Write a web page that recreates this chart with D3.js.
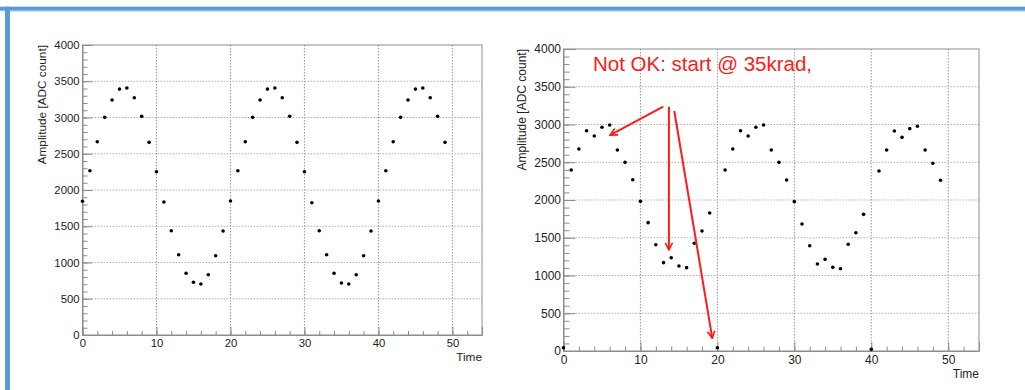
<!DOCTYPE html>
<html>
<head>
<meta charset="utf-8">
<script src="https://cdn.jsdelivr.net/npm/d3@7"></script>
<style>
  html, body { margin: 0; padding: 0; background: #fff; }
  svg { display: block; font-family: "Liberation Sans", Arial, Helvetica, sans-serif; }
</style>
</head>
<body>
<svg id="chart" width="1025" height="390"></svg>
<script>
// ---------- data ----------
const timeValues = d3.range(0, 50);
const leftAmplitude = [
  1844, 2266, 2666, 3002, 3241, 3392, 3406, 3273, 3016, 2657,
  2252, 1834, 1438, 1107, 851, 727, 703, 832, 1094, 1434,
  1848, 2266, 2666, 3002, 3241, 3392, 3406, 3273, 3016, 2657,
  2252, 1825, 1438, 1107, 851, 717, 703, 832, 1094, 1434,
  1848, 2266, 2666, 3002, 3241, 3392, 3406, 3273, 3016, 2657
];
const rightAmplitude = [
  44, 2397, 2675, 2918, 2848, 2963, 2993, 2662, 2499, 2269,
  1982, 1700, 1408, 1170, 1236, 1126, 1104, 1426, 1589, 1828,
  44, 2397, 2675, 2918, 2848, 2963, 2993, 2662, 2499, 2265,
  1978, 1682, 1395, 1152, 1214, 1108, 1090, 1413, 1567, 1810,
  22, 2384, 2662, 2914, 2830, 2945, 2976, 2662, 2486, 2261
];
const xDomain = [0, 54];
const yDomain = [0, 4000];
const xMajorTicks = [0, 10, 20, 30, 40, 50];
const xMinorTicks = d3.range(0, 54, 2);
const yMajorTicks = [0, 500, 1000, 1500, 2000, 2500, 3000, 3500, 4000];
const yMinorTicks = d3.range(0, 4001, 100);
const yTitle = "Amplitude [ADC count]";
const xTitle = "Time";
const annotationText = "Not OK: start @ 35krad,";
// annotation arrows in data coordinates of the right panel
const arrowStarts = [[12.97, 3236], [13.7, 3236], [14.4, 3179]];
const arrowEnds = [[6.05, 2860], [13.7, 1338], [19.34, 168]];
const annotationPos = [3.83, 3709];

// ---------- drawing ----------
const svg = d3.select("#chart");

// slide border (blue)
svg.append("rect").attr("x", 0).attr("y", 6.7).attr("width", 1025).attr("height", 4).attr("fill", "#5b9bd5");
svg.append("rect").attr("x", 5).attr("y", 6.7).attr("width", 5).attr("height", 390).attr("fill", "#5b9bd5");
svg.append("rect").attr("x", 10).attr("y", 10.7).attr("width", 1015).attr("height", 1).attr("fill", "#a9c9ea");

function panel(cfg) {
  const x = d3.scaleLinear().domain(xDomain).range([cfg.left, cfg.right]);
  const y = d3.scaleLinear().domain(yDomain).range([cfg.bottom, cfg.top]);
  const g = svg.append("g");
  const fs = cfg.fs;

  // grid
  g.append("g").selectAll("line").data(xMajorTicks.filter(d => d > 0)).join("line")
    .attr("x1", d => x(d)).attr("x2", d => x(d))
    .attr("y1", cfg.top).attr("y2", cfg.bottom)
    .attr("stroke", "#999").attr("stroke-width", 1).attr("stroke-dasharray", "1.5,1.5");
  g.append("g").selectAll("line").data(yMajorTicks.filter(d => d > 0 && d < 4000)).join("line")
    .attr("x1", cfg.left).attr("x2", cfg.right)
    .attr("y1", d => y(d)).attr("y2", d => y(d))
    .attr("stroke", "#b0b0b0").attr("stroke-width", 1).attr("stroke-dasharray", "1.5,1.5");

  // frame
  g.append("rect").attr("x", cfg.left).attr("y", cfg.top)
    .attr("width", cfg.right - cfg.left).attr("height", cfg.bottom - cfg.top)
    .attr("fill", "none").attr("stroke", "#8c8c8c").attr("stroke-width", 1);

  // y axis minor ticks
  const yMinor = g.append("g").attr("transform", `translate(${cfg.left},0)`)
    .call(d3.axisLeft(y).tickValues(yMinorTicks).tickSize(-cfg.yMinorLen).tickFormat(""));
  yMinor.select(".domain").remove();
  yMinor.selectAll("line").attr("stroke", "#8c8c8c");
  // y axis major
  const yMajor = g.append("g").attr("transform", `translate(${cfg.left},0)`)
    .call(d3.axisLeft(y).tickValues(yMajorTicks).tickSize(-cfg.yMajorLen).tickPadding(cfg.yPad).tickFormat(d3.format("d")));
  yMajor.select(".domain").attr("stroke", "#8c8c8c");
  yMajor.selectAll("line").attr("stroke", "#8c8c8c");
  yMajor.selectAll("text").attr("font-size", fs).attr("fill", "#222").attr("font-family", null);

  // x axis minor ticks
  const xMinor = g.append("g").attr("transform", `translate(0,${cfg.bottom})`)
    .call(d3.axisBottom(x).tickValues(xMinorTicks).tickSize(-cfg.xMinorLen).tickFormat(""));
  xMinor.select(".domain").remove();
  xMinor.selectAll("line").attr("stroke", "#8c8c8c");
  const xMajor = g.append("g").attr("transform", `translate(0,${cfg.bottom})`)
    .call(d3.axisBottom(x).tickValues(xMajorTicks).tickSize(-cfg.xMajorLen).tickPadding(cfg.xPad).tickFormat(d3.format("d")));
  xMajor.select(".domain").attr("stroke", "#8c8c8c");
  xMajor.selectAll("line").attr("stroke", "#8c8c8c");
  xMajor.selectAll("text").attr("font-size", fs).attr("fill", "#222").attr("font-family", null);

  // axis titles
  g.append("text").attr("transform", `translate(${cfg.yTitleX},${cfg.top}) rotate(-90)`)
    .attr("text-anchor", "end").attr("font-size", cfg.titleFs).attr("fill", "#222").text(yTitle);
  g.append("text").attr("x", cfg.right).attr("y", cfg.xTitleY)
    .attr("text-anchor", "end").attr("font-size", cfg.titleFs).attr("fill", "#222").text(xTitle);

  // points
  g.append("g").selectAll("circle").data(cfg.values).join("circle")
    .attr("cx", (d, i) => x(timeValues[i])).attr("cy", d => y(d))
    .attr("r", 1.8).attr("fill", "#000");

  return { x, y, g };
}

panel({ left: 82.5, right: 482, top: 45, bottom: 335, fs: 11.3, titleFs: 11.8,
  yMajorLen: 10, yMinorLen: 5, xMajorLen: 8, xMinorLen: 4, yPad: 3, xPad: 4,
  yTitleX: 45.5, xTitleY: 361, values: leftAmplitude });

const R = panel({ left: 563.5, right: 979, top: 49, bottom: 351, fs: 12, titleFs: 12,
  yMajorLen: 12, yMinorLen: 6, xMajorLen: 9, xMinorLen: 4.5, yPad: 2.5, xPad: 4,
  yTitleX: 526, xTitleY: 378, values: rightAmplitude });

// annotation
const red = "#ff1a1a";
R.g.append("text").attr("x", R.x(annotationPos[0])).attr("y", R.y(annotationPos[1]))
  .attr("font-size", 20.5).attr("fill", red).text(annotationText);

svg.append("defs").append("marker").attr("id", "ah")
  .attr("viewBox", "0 0 10 10").attr("refX", 9).attr("refY", 5)
  .attr("markerWidth", 9).attr("markerHeight", 9).attr("markerUnits", "userSpaceOnUse")
  .attr("orient", "auto")
  .append("path").attr("d", "M1,1 L9,5 L1,9").attr("fill", "none").attr("stroke", red).attr("stroke-width", 1.8);

R.g.append("g").selectAll("line").data(arrowStarts).join("line")
  .attr("x1", d => R.x(d[0])).attr("y1", d => R.y(d[1]))
  .attr("x2", (d, i) => R.x(arrowEnds[i][0])).attr("y2", (d, i) => R.y(arrowEnds[i][1]))
  .attr("stroke", red).attr("stroke-width", 2).attr("marker-end", "url(#ah)");
</script>
</body>
</html>
